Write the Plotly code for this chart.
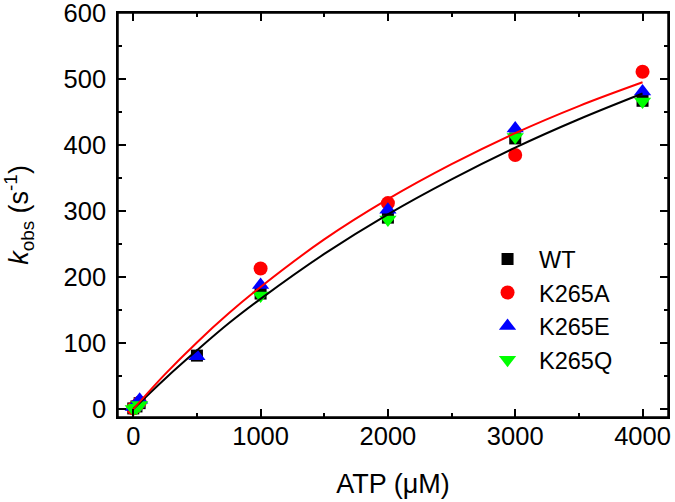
import plotly.graph_objects as go

# Data
atp = [0, 25, 50, 500, 1000, 2000, 3000, 4000]
wt = [1, 4, 9, 81, 175, 290, 410, 467]
k265a = [1, 5, 10, None, 213, 312, 385, 511]
k265e = [3, 8, 14, 80, 188, 302, 425, 481]
k265q = [0, 2, 6, None, 172, 287, 412, 466]

fit_x = [0, 250, 500, 750, 1000, 1500, 2000, 2500, 3000, 3500, 4000]
fit_black = [0, 46, 89, 130, 167, 235, 295, 348, 396, 439, 478]
fit_red = [0, 53, 101, 145, 185, 257, 318, 371, 418, 459, 495]

x_ticks = [0, 1000, 2000, 3000, 4000]
y_ticks = [0, 100, 200, 300, 400, 500, 600]

FONT = "Liberation Sans, Arial, sans-serif"

fig = go.Figure()
fig.add_trace(go.Scatter(x=atp, y=wt, mode="markers", name="WT",
                         marker=dict(symbol="square", size=12, color="black")))
fig.add_trace(go.Scatter(x=atp, y=k265a, mode="markers", name="K265A",
                         marker=dict(symbol="circle", size=14, color="#ff0000")))
fig.add_trace(go.Scatter(x=atp, y=k265e, mode="markers", name="K265E",
                         marker=dict(symbol="triangle-up", size=15, color="#0000ff")))
fig.add_trace(go.Scatter(x=atp, y=k265q, mode="markers", name="K265Q",
                         marker=dict(symbol="triangle-down", size=15, color="#00ff00")))
fig.add_trace(go.Scatter(x=fit_x, y=fit_black, mode="lines", showlegend=False,
                         line=dict(color="black", width=2, shape="spline")))
fig.add_trace(go.Scatter(x=fit_x, y=fit_red, mode="lines", showlegend=False,
                         line=dict(color="#ff0000", width=2, shape="spline")))

axis_common = dict(
    showline=True, linecolor="black", linewidth=1.5, mirror="allticks",
    ticks="inside", ticklen=8, tickwidth=1.5, tickcolor="black",
    showgrid=False, zeroline=False, automargin=False,
    ticklabeloverflow="allow",
    tickfont=dict(family=FONT, size=25.5, color="black"),
    minor=dict(ticks="inside", ticklen=4, tickwidth=1.5, tickcolor="black", showgrid=False),
)

fig.update_xaxes(
    range=[-120, 4200], tickvals=x_ticks, ticktext=[str(v) for v in x_ticks],
    minor_dtick=500, minor_tick0=0,
    ticklabelstandoff=-4,
    title=dict(text="ATP (μM)", font=dict(family=FONT, size=27, color="black"), standoff=25),
    **axis_common,
)
fig.update_yaxes(
    range=[-12, 600], tickvals=y_ticks, ticktext=[str(v) for v in y_ticks],
    minor_dtick=50, minor_tick0=0,
    ticklabelstandoff=5,
    title=dict(text="<i>k</i><sub>obs</sub> (s<sup>-1</sup>)",
               font=dict(family=FONT, size=27, color="black"), standoff=27),
    **axis_common,
)

fig.update_layout(
    width=675, height=502,
    margin=dict(l=118, r=7, t=13, b=85),
    paper_bgcolor="white", plot_bgcolor="white",
    shapes=[dict(type="rect", xref="paper", yref="paper", x0=0, x1=1, y0=0, y1=1,
                 line=dict(color="black", width=1.5), layer="above")],
    legend=dict(x=0.651, y=0.445, xanchor="left", yanchor="top",
                bgcolor="rgba(0,0,0,0)", borderwidth=0, itemwidth=53,
                font=dict(family=FONT, size=23.5, color="black"),
                tracegroupgap=0),
)

# Remove the default page margin so the figure sits at the window's top-left corner.
fig.write_html("out.html", config={"displayModeBar": False},
               post_script="document.body.style.margin='0';")
